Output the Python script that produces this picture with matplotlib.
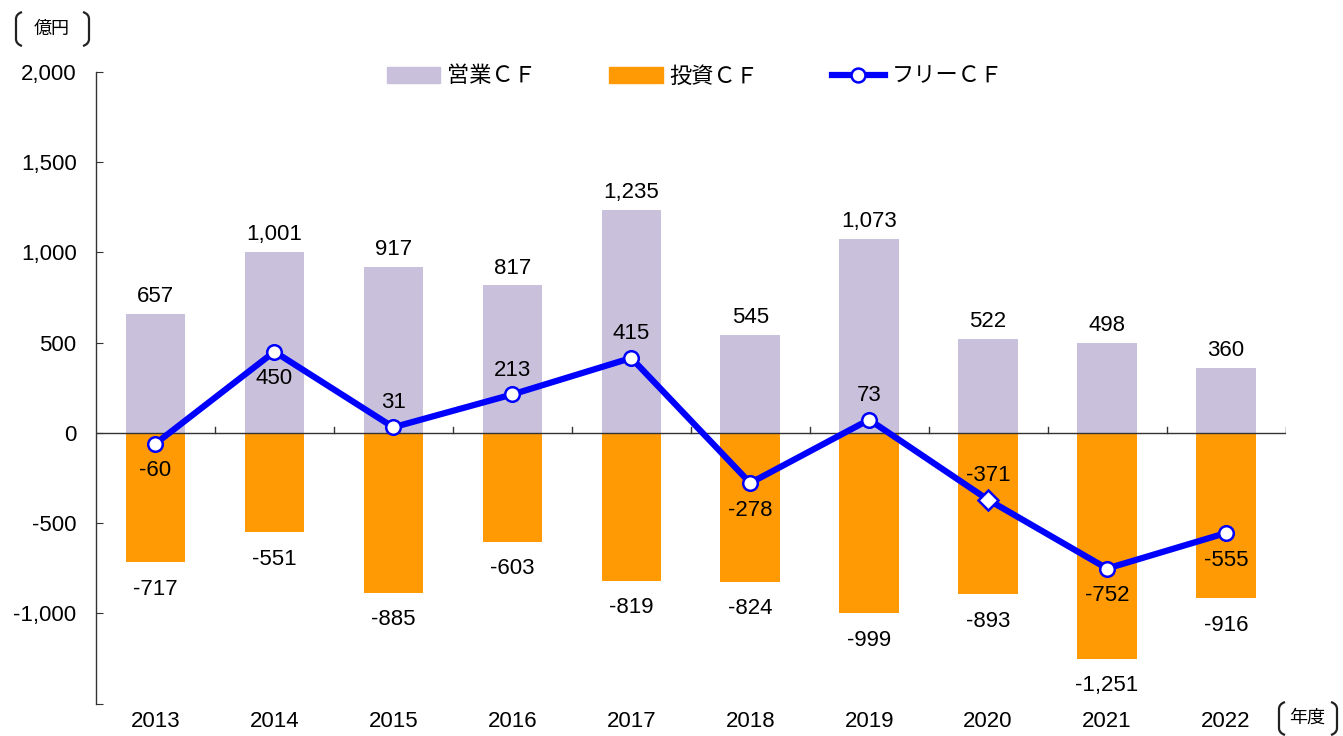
import matplotlib
matplotlib.use("Agg")
import matplotlib.pyplot as plt
from matplotlib.lines import Line2D
from matplotlib.patches import Patch, PathPatch
from matplotlib.path import Path

plt.rcParams['font.family'] = ['Liberation Sans', 'Noto Sans CJK JP', 'DejaVu Sans']

years = ['2013', '2014', '2015', '2016', '2017', '2018', '2019', '2020', '2021', '2022']
operating_cf = [657, 1001, 917, 817, 1235, 545, 1073, 522, 498, 360]
investing_cf = [-717, -551, -885, -603, -819, -824, -999, -893, -1251, -916]
free_cf = [-60, 450, 31, 213, 415, -278, 73, -371, -752, -555]
free_label_above = [False, False, True, True, True, False, True, True, False, False]

C_OP = '#C9C1DB'
C_INV = '#FF9A05'
C_FREE = '#0000FF'

fig = plt.figure(figsize=(13.43, 7.36), dpi=100)
W, H = 1343, 736
ax = fig.add_axes([96 / W, 1 - 703.5 / H, (1285.5 - 96) / W, (703.5 - 72) / H])

x = list(range(len(years)))
ax.bar(x, operating_cf, width=0.5, color=C_OP, zorder=2)
ax.bar(x, investing_cf, width=0.5, color=C_INV, zorder=2)
ax.plot(x, free_cf, color=C_FREE, lw=4.5, zorder=4, solid_capstyle='round')
for i, v in enumerate(free_cf):
    m = 'D' if years[i] == '2020' else 'o'
    ms = 10 if m == 'D' else 10.5
    ax.plot([i], [v], marker=m, ms=ms, mfc='white', mec=C_FREE, mew=1.8, zorder=5, ls='none')

ax.set_xlim(-0.5, len(years) - 0.5)
ax.set_ylim(-1500, 2000)

fs = 16
for i, v in enumerate(operating_cf):
    ax.annotate(f'{v:,}', (i, v), xytext=(0, 5), textcoords='offset points',
                ha='center', va='bottom', fontsize=fs, zorder=6)
for i, v in enumerate(investing_cf):
    ax.annotate(f'{v:,}', (i, v), xytext=(0, -12), textcoords='offset points',
                ha='center', va='top', fontsize=fs, zorder=6)
for i, v in enumerate(free_cf):
    if free_label_above[i]:
        ax.annotate(f'{v:,}', (i, v), xytext=(0, 10), textcoords='offset points',
                    ha='center', va='bottom', fontsize=fs, zorder=6)
    else:
        ax.annotate(f'{v:,}', (i, v), xytext=(0, -12), textcoords='offset points',
                    ha='center', va='top', fontsize=fs, zorder=6)

# axes styling
for s in ['top', 'right', 'bottom']:
    ax.spines[s].set_visible(False)
ax.spines['left'].set_color('#333333')
ax.spines['left'].set_linewidth(1.0)
ax.set_yticks([-1500, -1000, -500, 0, 500, 1000, 1500, 2000])
ax.set_yticklabels(['', '-1,000', '-500', '0', '500', '1,000', '1,500', '2,000'], fontsize=fs)
ax.tick_params(axis='y', direction='in', length=5, color='#333333', pad=14)
ax.set_xticks([])

# zero line with category boundary ticks
ax.axhline(0, color='#333333', lw=1.0, zorder=3)
for b in range(1, len(years) + 1):
    xb = b - 0.5
    ax.plot([xb, xb], [0, 35], color='#333333', lw=1.0, zorder=3)

for i, y in enumerate(years):
    ax.text(i, -1602, y, ha='center', va='center', fontsize=fs, clip_on=False)

# legend
handles = [Patch(color=C_OP), Patch(color=C_INV),
           Line2D([0], [0], color=C_FREE, lw=4.5, marker='o', ms=10, mfc='white', mec=C_FREE, mew=1.8)]
labels = ['営業ＣＦ', '投資ＣＦ', 'フリーＣＦ']
leg = fig.legend(handles, labels, loc='center', bbox_to_anchor=(695 / W, 1 - 76 / H), ncol=3,
                 frameon=False, handlelength=2.4, handleheight=0.7,
                 columnspacing=3.3, handletextpad=0.3,
                 prop={'family': ['Noto Sans CJK JP'], 'size': fs})


def bracket(x0, y0, y1, side):
    # draw a thin round bracket in pixel coords (y measured from top)
    d = 6 if side == 'left' else -6
    xe = x0 + d
    verts = [(xe, y0), (x0, y0 + 2), (x0, y0 + 7),
             (x0, y1 - 7),
             (x0, y1 - 2), (xe, y1)]
    codes = [Path.MOVETO, Path.CURVE3, Path.CURVE3, Path.LINETO, Path.CURVE3, Path.CURVE3]
    verts = [(vx / W, 1 - vy / H) for vx, vy in verts]
    p = PathPatch(Path(verts, codes), transform=fig.transFigure, fill=False,
                  lw=1.6, edgecolor='#222222')
    fig.patches.append(p)


bracket(16, 12, 46, 'left')
bracket(89, 12, 46, 'right')
fig.text(52 / W, 1 - 29 / H, '億円', fontsize=13, ha='center', va='center',
         family=['Noto Sans CJK JP'])

bracket(1279, 702, 735, 'left')
bracket(1337, 702, 735, 'right')
fig.text(1307 / W, 1 - 718 / H, '年度', fontsize=13, ha='center', va='center',
         family=['Noto Sans CJK JP'])

fig.savefig('out.png', dpi=100)
